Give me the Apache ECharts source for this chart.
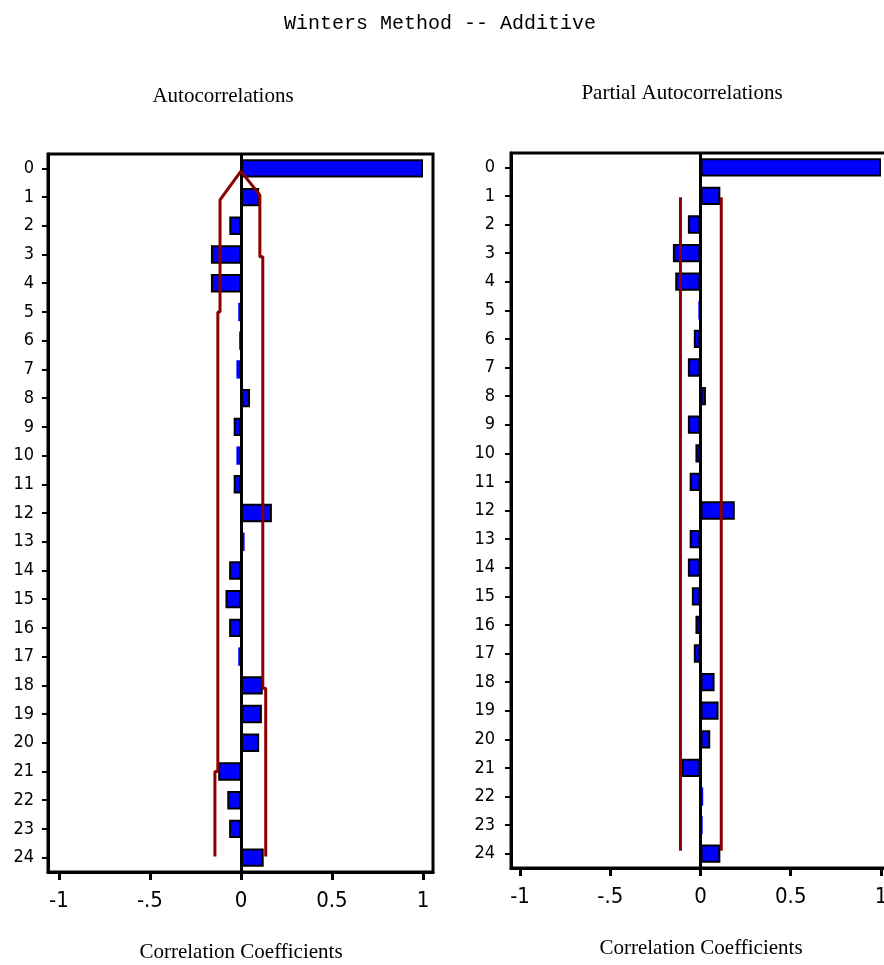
<!DOCTYPE html>
<html>
<head>
<meta charset="utf-8">
<script src="https://cdn.jsdelivr.net/npm/echarts@6/dist/echarts.min.js"></script>
<style>
  html, body { margin: 0; padding: 0; background: #fff; }
  #main { width: 884px; height: 965px; }
</style>
</head>
<body>
<div id="main"></div>
<script>
// lags on the vertical axis
const lags = ['0','1','2','3','4','5','6','7','8','9','10','11','12',
  '13','14','15','16','17','18','19','20','21','22','23','24'];

// autocorrelations (left panel)
const acf = [1.0, 0.10, -0.064, -0.165, -0.165, -0.015, -0.01, -0.025, 0.05, -0.04,
  -0.025, -0.04, 0.17, 0.02, -0.065, -0.085, -0.065, -0.015, 0.12, 0.115,
  0.10, -0.125, -0.075, -0.065, 0.125];

// partial autocorrelations (right panel)
const pacf = [1.0, 0.11, -0.07, -0.153, -0.14, -0.012, -0.037, -0.07, 0.03, -0.07,
  -0.028, -0.06, 0.19, -0.06, -0.07, -0.048, -0.028, -0.037, 0.078, 0.10,
  0.054, -0.104, 0.015, 0.012, 0.11];

// confidence limits drawn in red, as [coefficient, lag]
const acfUpper = [[0, 0.1], [0.104, 0.93], [0.104, 3.08], [0.12, 3.08], [0.12, 18.1],
  [0.136, 18.1], [0.136, 23.96]];
const acfLower = [[0, 0.1], [-0.115, 1.1], [-0.115, 5.0], [-0.127, 5.0], [-0.127, 21.0],
  [-0.143, 21.0], [-0.143, 23.96]];
const pacfUpper = [[0.115, 1.05], [0.115, 23.9]];
const pacfLower = [[-0.111, 1.05], [-0.111, 23.9]];

const xTickValues = [-1, -0.5, 0, 0.5, 1];
const xTickLabels = ['-1', '-.5', '0', '0.5', '1'];

const chart = echarts.init(document.getElementById('main'), null, { renderer: 'canvas' });

const BLUE = '#0000ff';
const RED = '#8b0000';
const digitFont = '"DejaVu Sans Condensed", "Liberation Sans", sans-serif';
const serifFont = '"Liberation Serif", "DejaVu Serif", serif';

function barData(values) {
  // very small bars show as a plain blue sliver in the original
  return values.map(v => ({
    value: v,
    itemStyle: { borderWidth: Math.abs(v) < 0.026 ? 0 : 2 }
  }));
}

function xAxisFor(grid, min, max) {
  return {
    type: 'value', gridIndex: grid, min: min, max: max,
    splitLine: { show: false },
    axisLine: { show: true, onZero: false, lineStyle: { color: '#000', width: 3 } },
    axisTick: { show: true, length: 8, customValues: xTickValues, lineStyle: { color: '#000', width: 3 } },
    axisLabel: {
      customValues: xTickValues, margin: 18, color: '#000',
      fontFamily: digitFont, fontSize: 22,
      formatter: v => xTickLabels[xTickValues.indexOf(v)]
    }
  };
}

function catAxisFor(grid, margin) {
  return {
    type: 'category', gridIndex: grid, data: lags, inverse: true,
    axisLine: { show: true, onZero: false, lineStyle: { color: '#000', width: 3 } },
    axisTick: { show: true, alignWithLabel: true, length: 6, lineStyle: { color: '#000', width: 2 } },
    axisLabel: { margin: margin, color: '#000', fontFamily: digitFont, fontSize: 18 },
    splitLine: { show: false }
  };
}

function bandAxisFor(grid) {
  return { type: 'value', gridIndex: grid, min: -0.5, max: 24.5, inverse: true, show: false };
}

function bars(idx, values) {
  return {
    type: 'bar', xAxisIndex: idx, yAxisIndex: idx * 2, data: barData(values),
    barWidth: '64%', itemStyle: { color: BLUE, borderColor: '#000' },
    silent: true, z: 3,
    markLine: {
      silent: true, symbol: 'none', label: { show: false },
      lineStyle: { color: '#000', width: 3, type: 'solid' },
      data: [{ xAxis: 0 }]
    }
  };
}

function band(idx, pts) {
  return {
    type: 'line', xAxisIndex: idx, yAxisIndex: idx * 2 + 1, data: pts,
    showSymbol: false, silent: true, z: 5,
    lineStyle: { color: RED, width: 3 }
  };
}

function label(text, x, y, font, size) {
  return {
    type: 'text', x: x, y: y, silent: true,
    style: { text: text, fill: '#000', font: size + 'px ' + font, textAlign: 'center', textVerticalAlign: 'middle' }
  };
}

const option = {
  backgroundColor: '#fff',
  animation: false,
  grid: [
    { left: 48, top: 154, right: 451, bottom: 93, outerBoundsMode: 'none',
      show: true, borderColor: '#000', borderWidth: 3, backgroundColor: '#fff' },
    { left: 511, top: 153, right: -6, bottom: 97, outerBoundsMode: 'none',
      show: true, borderColor: '#000', borderWidth: 3, backgroundColor: '#fff' }
  ],
  xAxis: [xAxisFor(0, -1.06, 1.055), xAxisFor(1, -1.05, 1.05)],
  yAxis: [catAxisFor(0, 14), bandAxisFor(0), catAxisFor(1, 16), bandAxisFor(1)],
  series: [
    bars(0, acf), band(0, acfUpper), band(0, acfLower),
    bars(1, pacf), band(1, pacfUpper), band(1, pacfLower)
  ],
  graphic: [
    label('Winters Method -- Additive', 440, 24, '"Liberation Mono", "DejaVu Sans Mono", monospace', 20),
    label('Autocorrelations', 223, 96, serifFont, 21),
    label('Partial Autocorrelations', 682, 93, serifFont, 21),
    label('Correlation Coefficients', 241, 952, serifFont, 21),
    label('Correlation Coefficients', 701, 948, serifFont, 21)
  ]
};

chart.setOption(option);
</script>
</body>
</html>
